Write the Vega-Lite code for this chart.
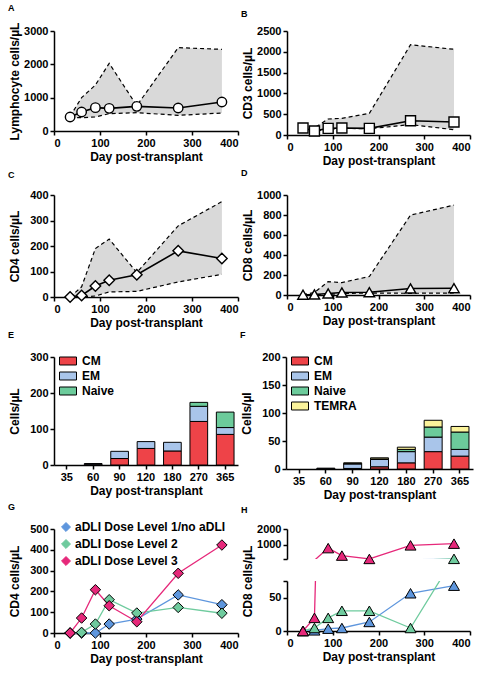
{
  "$schema": "https://vega.github.io/schema/vega-lite/v6.json",
  "padding": {"left": 7, "top": 4, "right": 4, "bottom": 4},
  "background": "white",
  "config": {
    "font": "Liberation Sans",
    "view": {"stroke": null},
    "axis": {"labelFont": "Liberation Sans", "labelFontWeight": "bold", "labelFontSize": 11, "labelColor": "black", "titleFont": "Liberation Sans", "titleFontWeight": "bold", "titleFontSize": 12, "titleColor": "black", "domainColor": "black", "domainWidth": 1.5, "tickColor": "black", "tickWidth": 1.5, "tickSize": 4, "grid": false, "labelPadding": 2, "titlePadding": 3, "labelOverlap": false},
    "axisY": {"minExtent": 31, "maxExtent": 31, "titlePadding": 2},
    "title": {"fontSize": 9, "fontWeight": "bold", "anchor": "start", "frame": "bounds", "color": "black", "font": "Liberation Sans"},
    "legend": {"labelFont": "Liberation Sans", "labelFontWeight": "bold", "labelFontSize": 11, "labelColor": "black", "title": null}
  },
  "datasets": {
    "lymph": [
      {"day": 35, "med": 420, "lo": 400, "hi": 440},
      {"day": 60, "med": 570, "lo": 400, "hi": 1000},
      {"day": 90, "med": 700, "lo": 420, "hi": 1380},
      {"day": 120, "med": 680, "lo": 520, "hi": 2030},
      {"day": 180, "med": 740, "lo": 550, "hi": 760},
      {"day": 270, "med": 690, "lo": 470, "hi": 2500},
      {"day": 365, "med": 870, "lo": 540, "hi": 2450}
    ],
    "cd3": [
      {"day": 35, "med": 168, "lo": 140, "hi": 260},
      {"day": 60, "med": 96, "lo": 90, "hi": 170},
      {"day": 90, "med": 160, "lo": 140, "hi": 385},
      {"day": 120, "med": 168, "lo": 160, "hi": 400},
      {"day": 180, "med": 160, "lo": 150, "hi": 520},
      {"day": 270, "med": 343, "lo": 250, "hi": 2170},
      {"day": 365, "med": 312, "lo": 128, "hi": 2060}
    ],
    "cd4": [
      {"day": 35, "med": 0, "lo": 0, "hi": 0},
      {"day": 60, "med": 6, "lo": 0, "hi": 40},
      {"day": 90, "med": 43, "lo": 4, "hi": 190},
      {"day": 120, "med": 66, "lo": 20, "hi": 227},
      {"day": 180, "med": 87, "lo": 22, "hi": 96},
      {"day": 270, "med": 181, "lo": 59, "hi": 279},
      {"day": 365, "med": 151, "lo": 89, "hi": 374}
    ],
    "cd8": [
      {"day": 35, "med": 3, "lo": 0, "hi": 3},
      {"day": 60, "med": 5, "lo": 0, "hi": 25},
      {"day": 90, "med": 15, "lo": 5, "hi": 134},
      {"day": 120, "med": 25, "lo": 15, "hi": 124},
      {"day": 180, "med": 28, "lo": 20, "hi": 185},
      {"day": 270, "med": 65, "lo": 17, "hi": 799},
      {"day": 365, "med": 68, "lo": 20, "hi": 899}
    ],
    "cd4subsets": [
      {"day": 60, "subset": "CM", "value": 2}, {"day": 60, "subset": "EM", "value": 2},
      {"day": 90, "subset": "CM", "value": 18}, {"day": 90, "subset": "EM", "value": 20},
      {"day": 120, "subset": "CM", "value": 46}, {"day": 120, "subset": "EM", "value": 19},
      {"day": 180, "subset": "CM", "value": 39}, {"day": 180, "subset": "EM", "value": 24},
      {"day": 270, "subset": "CM", "value": 121}, {"day": 270, "subset": "EM", "value": 42}, {"day": 270, "subset": "Naive", "value": 11},
      {"day": 365, "subset": "CM", "value": 85}, {"day": 365, "subset": "EM", "value": 19}, {"day": 365, "subset": "Naive", "value": 43}
    ],
    "cd8subsets": [
      {"day": 60, "subset": "CM", "value": 0.5}, {"day": 60, "subset": "EM", "value": 1},
      {"day": 90, "subset": "CM", "value": 1}, {"day": 90, "subset": "EM", "value": 8}, {"day": 90, "subset": "Naive", "value": 1}, {"day": 90, "subset": "TEMRA", "value": 1},
      {"day": 120, "subset": "CM", "value": 4}, {"day": 120, "subset": "EM", "value": 13}, {"day": 120, "subset": "Naive", "value": 1}, {"day": 120, "subset": "TEMRA", "value": 2},
      {"day": 180, "subset": "CM", "value": 11}, {"day": 180, "subset": "EM", "value": 20}, {"day": 180, "subset": "Naive", "value": 4}, {"day": 180, "subset": "TEMRA", "value": 4},
      {"day": 270, "subset": "CM", "value": 31}, {"day": 270, "subset": "EM", "value": 26}, {"day": 270, "subset": "Naive", "value": 18}, {"day": 270, "subset": "TEMRA", "value": 12},
      {"day": 365, "subset": "CM", "value": 23}, {"day": 365, "subset": "EM", "value": 12}, {"day": 365, "subset": "Naive", "value": 31}, {"day": 365, "subset": "TEMRA", "value": 10}
    ],
    "cd4dose": [
      {"day": 35, "group": "aDLI Dose Level 1/no aDLI", "value": 0},
      {"day": 60, "group": "aDLI Dose Level 1/no aDLI", "value": 0},
      {"day": 90, "group": "aDLI Dose Level 1/no aDLI", "value": 0},
      {"day": 120, "group": "aDLI Dose Level 1/no aDLI", "value": 43},
      {"day": 180, "group": "aDLI Dose Level 1/no aDLI", "value": 67},
      {"day": 270, "group": "aDLI Dose Level 1/no aDLI", "value": 183},
      {"day": 365, "group": "aDLI Dose Level 1/no aDLI", "value": 136},
      {"day": 35, "group": "aDLI Dose Level 2", "value": 0},
      {"day": 60, "group": "aDLI Dose Level 2", "value": 3},
      {"day": 90, "group": "aDLI Dose Level 2", "value": 43},
      {"day": 120, "group": "aDLI Dose Level 2", "value": 160},
      {"day": 180, "group": "aDLI Dose Level 2", "value": 96},
      {"day": 270, "group": "aDLI Dose Level 2", "value": 123},
      {"day": 365, "group": "aDLI Dose Level 2", "value": 95},
      {"day": 35, "group": "aDLI Dose Level 3", "value": 0},
      {"day": 60, "group": "aDLI Dose Level 3", "value": 72},
      {"day": 90, "group": "aDLI Dose Level 3", "value": 208},
      {"day": 120, "group": "aDLI Dose Level 3", "value": 131},
      {"day": 180, "group": "aDLI Dose Level 3", "value": 54},
      {"day": 270, "group": "aDLI Dose Level 3", "value": 287},
      {"day": 365, "group": "aDLI Dose Level 3", "value": 423}
    ],
    "cd8dose": [
      {"day": 35, "group": "aDLI Dose Level 1/no aDLI", "value": 0},
      {"day": 60, "group": "aDLI Dose Level 1/no aDLI", "value": 1},
      {"day": 90, "group": "aDLI Dose Level 1/no aDLI", "value": 3.5},
      {"day": 120, "group": "aDLI Dose Level 1/no aDLI", "value": 4.5},
      {"day": 180, "group": "aDLI Dose Level 1/no aDLI", "value": 13.6},
      {"day": 270, "group": "aDLI Dose Level 1/no aDLI", "value": 56.6},
      {"day": 365, "group": "aDLI Dose Level 1/no aDLI", "value": 68},
      {"day": 35, "group": "aDLI Dose Level 2", "value": 0},
      {"day": 60, "group": "aDLI Dose Level 2", "value": 4.5},
      {"day": 90, "group": "aDLI Dose Level 2", "value": 19.7},
      {"day": 120, "group": "aDLI Dose Level 2", "value": 30.3},
      {"day": 180, "group": "aDLI Dose Level 2", "value": 30.3},
      {"day": 270, "group": "aDLI Dose Level 2", "value": 4.5},
      {"day": 365, "group": "aDLI Dose Level 2", "value": 110},
      {"day": 35, "group": "aDLI Dose Level 3", "value": 0},
      {"day": 60, "group": "aDLI Dose Level 3", "value": 19.7},
      {"day": 90, "group": "aDLI Dose Level 3", "value": 790},
      {"day": 120, "group": "aDLI Dose Level 3", "value": 316},
      {"day": 180, "group": "aDLI Dose Level 3", "value": 105},
      {"day": 270, "group": "aDLI Dose Level 3", "value": 964},
      {"day": 365, "group": "aDLI Dose Level 3", "value": 1072}
    ]
  },
  "resolve": {"scale": {"color": "independent"}},
  "spacing": 3,
  "vconcat": [
    {
      "spacing": 2,
      "resolve": {"scale": {"color": "independent"}},
      "hconcat": [
        {
          "title": {"text": "A", "offset": 9},
          "width": 184, "height": 100,
          "data": {"name": "lymph"},
          "encoding": {"x": {"field": "day", "type": "quantitative", "scale": {"domain": [0, 400]}, "axis": {"values": [0, 100, 200, 300, 400], "title": "Day post-transplant"}}},
          "layer": [
            {"mark": {"type": "area", "color": "#d9d9d9"}, "encoding": {"y": {"field": "lo", "type": "quantitative", "scale": {"domain": [0, 3000]}, "axis": {"values": [0, 1000, 2000, 3000], "format": "d"}, "title": "Lymphocyte cells/µL"}, "y2": {"field": "hi"}}},
            {"mark": {"type": "line", "color": "black", "strokeDash": [4, 3], "strokeWidth": 1.2}, "encoding": {"y": {"field": "hi", "type": "quantitative", "scale": {"domain": [0, 3000]}, "axis": {"values": [0, 1000, 2000, 3000], "format": "d"}, "title": "Lymphocyte cells/µL"}}},
            {"mark": {"type": "line", "color": "black", "strokeDash": [4, 3], "strokeWidth": 1.2}, "encoding": {"y": {"field": "lo", "type": "quantitative", "scale": {"domain": [0, 3000]}, "axis": {"values": [0, 1000, 2000, 3000], "format": "d"}, "title": "Lymphocyte cells/µL"}}},
            {"mark": {"type": "line", "color": "black", "strokeWidth": 1.6}, "encoding": {"y": {"field": "med", "type": "quantitative", "scale": {"domain": [0, 3000]}, "axis": {"values": [0, 1000, 2000, 3000], "format": "d"}, "title": "Lymphocyte cells/µL"}}},
            {"mark": {"type": "point", "shape": "circle", "filled": true, "fill": "white", "stroke": "black", "strokeWidth": 1.4, "size": 90, "opacity": 1}, "encoding": {"y": {"field": "med", "type": "quantitative", "scale": {"domain": [0, 3000]}, "axis": {"values": [0, 1000, 2000, 3000], "format": "d"}, "title": "Lymphocyte cells/µL"}}}
          ]
        },
        {
          "title": {"text": "B", "offset": 6},
          "width": 183, "height": 104,
          "data": {"name": "cd3"},
          "encoding": {"x": {"field": "day", "type": "quantitative", "scale": {"domain": [0, 400]}, "axis": {"values": [0, 100, 200, 300, 400], "title": "Day post-transplant"}}},
          "layer": [
            {"mark": {"type": "area", "color": "#d9d9d9"}, "encoding": {"y": {"field": "lo", "type": "quantitative", "scale": {"domain": [0, 2500]}, "axis": {"values": [0, 500, 1000, 1500, 2000, 2500], "format": "d"}, "title": "CD3 cells/µL"}, "y2": {"field": "hi"}}},
            {"mark": {"type": "line", "color": "black", "strokeDash": [4, 3], "strokeWidth": 1.2}, "encoding": {"y": {"field": "hi", "type": "quantitative", "scale": {"domain": [0, 2500]}, "axis": {"values": [0, 500, 1000, 1500, 2000, 2500], "format": "d"}, "title": "CD3 cells/µL"}}},
            {"mark": {"type": "line", "color": "black", "strokeDash": [4, 3], "strokeWidth": 1.2}, "encoding": {"y": {"field": "lo", "type": "quantitative", "scale": {"domain": [0, 2500]}, "axis": {"values": [0, 500, 1000, 1500, 2000, 2500], "format": "d"}, "title": "CD3 cells/µL"}}},
            {"mark": {"type": "line", "color": "black", "strokeWidth": 1.6}, "encoding": {"y": {"field": "med", "type": "quantitative", "scale": {"domain": [0, 2500]}, "axis": {"values": [0, 500, 1000, 1500, 2000, 2500], "format": "d"}, "title": "CD3 cells/µL"}}},
            {"mark": {"type": "point", "shape": "square", "filled": true, "fill": "white", "stroke": "black", "strokeWidth": 1.4, "size": 100, "opacity": 1}, "encoding": {"y": {"field": "med", "type": "quantitative", "scale": {"domain": [0, 2500]}, "axis": {"values": [0, 500, 1000, 1500, 2000, 2500], "format": "d"}, "title": "CD3 cells/µL"}}}
          ]
        }
      ]
    },
    {
      "spacing": 2,
      "resolve": {"scale": {"color": "independent"}},
      "hconcat": [
        {
          "title": {"text": "C", "offset": 9},
          "width": 184, "height": 102,
          "data": {"name": "cd4"},
          "encoding": {"x": {"field": "day", "type": "quantitative", "scale": {"domain": [0, 400]}, "axis": {"values": [0, 100, 200, 300, 400], "title": "Day post-transplant"}}},
          "layer": [
            {"mark": {"type": "area", "color": "#d9d9d9"}, "encoding": {"y": {"field": "lo", "type": "quantitative", "scale": {"domain": [0, 400]}, "axis": {"values": [0, 100, 200, 300, 400], "format": "d"}, "title": "CD4 cells/µL"}, "y2": {"field": "hi"}}},
            {"mark": {"type": "line", "color": "black", "strokeDash": [4, 3], "strokeWidth": 1.2}, "encoding": {"y": {"field": "hi", "type": "quantitative", "scale": {"domain": [0, 400]}, "axis": {"values": [0, 100, 200, 300, 400], "format": "d"}, "title": "CD4 cells/µL"}}},
            {"mark": {"type": "line", "color": "black", "strokeDash": [4, 3], "strokeWidth": 1.2}, "encoding": {"y": {"field": "lo", "type": "quantitative", "scale": {"domain": [0, 400]}, "axis": {"values": [0, 100, 200, 300, 400], "format": "d"}, "title": "CD4 cells/µL"}}},
            {"mark": {"type": "line", "color": "black", "strokeWidth": 1.6}, "encoding": {"y": {"field": "med", "type": "quantitative", "scale": {"domain": [0, 400]}, "axis": {"values": [0, 100, 200, 300, 400], "format": "d"}, "title": "CD4 cells/µL"}}},
            {"mark": {"type": "point", "shape": "diamond", "filled": true, "fill": "white", "stroke": "black", "strokeWidth": 1.4, "size": 110, "opacity": 1}, "encoding": {"y": {"field": "med", "type": "quantitative", "scale": {"domain": [0, 400]}, "axis": {"values": [0, 100, 200, 300, 400], "format": "d"}, "title": "CD4 cells/µL"}}}
          ]
        },
        {
          "title": {"text": "D", "offset": 11},
          "width": 183, "height": 100,
          "data": {"name": "cd8"},
          "encoding": {"x": {"field": "day", "type": "quantitative", "scale": {"domain": [0, 400]}, "axis": {"values": [0, 100, 200, 300, 400], "title": "Day post-transplant"}}},
          "layer": [
            {"mark": {"type": "area", "color": "#d9d9d9"}, "encoding": {"y": {"field": "lo", "type": "quantitative", "scale": {"domain": [0, 1000]}, "axis": {"values": [0, 200, 400, 600, 800, 1000], "format": "d"}, "title": "CD8 cells/µL"}, "y2": {"field": "hi"}}},
            {"mark": {"type": "line", "color": "black", "strokeDash": [4, 3], "strokeWidth": 1.2}, "encoding": {"y": {"field": "hi", "type": "quantitative", "scale": {"domain": [0, 1000]}, "axis": {"values": [0, 200, 400, 600, 800, 1000], "format": "d"}, "title": "CD8 cells/µL"}}},
            {"mark": {"type": "line", "color": "black", "strokeDash": [4, 3], "strokeWidth": 1.2}, "encoding": {"y": {"field": "lo", "type": "quantitative", "scale": {"domain": [0, 1000]}, "axis": {"values": [0, 200, 400, 600, 800, 1000], "format": "d"}, "title": "CD8 cells/µL"}}},
            {"mark": {"type": "line", "color": "black", "strokeWidth": 1.6}, "encoding": {"y": {"field": "med", "type": "quantitative", "scale": {"domain": [0, 1000]}, "axis": {"values": [0, 200, 400, 600, 800, 1000], "format": "d"}, "title": "CD8 cells/µL"}}},
            {"mark": {"type": "point", "shape": "triangle-up", "filled": true, "fill": "white", "stroke": "black", "strokeWidth": 1.4, "size": 110, "opacity": 1}, "encoding": {"y": {"field": "med", "type": "quantitative", "scale": {"domain": [0, 1000]}, "axis": {"values": [0, 200, 400, 600, 800, 1000], "format": "d"}, "title": "CD8 cells/µL"}}}
          ]
        }
      ]
    },
    {
      "spacing": 2,
      "resolve": {"scale": {"color": "independent"}},
      "hconcat": [
        {
          "title": {"text": "E", "offset": 11},
          "width": 184, "height": 108,
          "data": {"name": "cd4subsets"},
          "mark": {"type": "bar", "stroke": "black", "strokeWidth": 1},
          "encoding": {
            "x": {"field": "day", "type": "ordinal", "scale": {"domain": [35, 60, 90, 120, 180, 270, 365], "paddingInner": 0.33, "paddingOuter": 0.15}, "axis": {"labelAngle": 0, "title": "Day post-transplant"}},
            "y": {"field": "value", "type": "quantitative", "stack": "zero", "scale": {"domain": [0, 300]}, "axis": {"values": [0, 100, 200, 300]}, "title": "Cells/µL"},
            "order": {"field": "subset", "sort": "ascending"},
            "color": {"field": "subset", "type": "nominal", "scale": {"domain": ["CM", "EM", "Naive"], "range": ["#ee4348", "#a9c5ea", "#6ccb9b"]},
              "legend": {"orient": "none", "legendX": 5, "legendY": -5, "symbolType": "M-1,-0.47H1V0.47H-1Z", "symbolSize": 289, "symbolStrokeColor": "black", "symbolStrokeWidth": 1, "labelOffset": 5, "rowPadding": 0, "labelFontSize": 12}}
          }
        },
        {
          "title": {"text": "F", "offset": 11},
          "width": 187, "height": 112,
          "data": {"name": "cd8subsets"},
          "mark": {"type": "bar", "stroke": "black", "strokeWidth": 1},
          "encoding": {
            "x": {"field": "day", "type": "ordinal", "scale": {"domain": [35, 60, 90, 120, 180, 270, 365], "paddingInner": 0.33, "paddingOuter": 0.15}, "axis": {"labelAngle": 0, "title": "Day post-transplant"}},
            "y": {"field": "value", "type": "quantitative", "stack": "zero", "scale": {"domain": [0, 200]}, "axis": {"values": [0, 50, 100, 150, 200]}, "title": "Cells/µl"},
            "order": {"field": "subset", "sort": "ascending"},
            "color": {"field": "subset", "type": "nominal", "scale": {"domain": ["CM", "EM", "Naive", "TEMRA"], "range": ["#ee4348", "#a9c5ea", "#6ccb9b", "#fbf39b"]},
              "legend": {"orient": "none", "legendX": 5, "legendY": -5, "symbolType": "M-1,-0.47H1V0.47H-1Z", "symbolSize": 289, "symbolStrokeColor": "black", "symbolStrokeWidth": 1, "labelOffset": 5, "rowPadding": 0, "labelFontSize": 12}}
          }
        }
      ]
    },
    {
      "spacing": 2,
      "resolve": {"scale": {"color": "independent"}},
      "hconcat": [
        {
          "title": {"text": "G", "offset": 9},
          "width": 184, "height": 104,
          "data": {"name": "cd4dose"},
          "encoding": {
            "x": {"field": "day", "type": "quantitative", "scale": {"domain": [0, 400]}, "axis": {"values": [0, 100, 200, 300, 400], "title": "Day post-transplant"}},
            "y": {"field": "value", "type": "quantitative", "scale": {"domain": [0, 500]}, "axis": {"values": [0, 100, 200, 300, 400, 500]}, "title": "CD4 cells/µL"},
            "color": {"field": "group", "type": "nominal", "scale": {"domain": ["aDLI Dose Level 1/no aDLI", "aDLI Dose Level 2", "aDLI Dose Level 3"], "range": ["#5e96dd", "#6fcb9e", "#e6287a"]},
              "legend": {"orient": "none", "legendX": 6, "legendY": -8, "symbolType": "diamond", "symbolSize": 80, "symbolStrokeColor": "black", "symbolStrokeWidth": 1, "symbolOpacity": 1, "labelOffset": 3, "rowPadding": 3, "labelFontSize": 12,
                "encode": {"symbols": {"update": {"stroke": {"value": "black"}, "strokeWidth": {"value": 1}}}}}}
          },
          "layer": [
            {"mark": {"type": "line", "strokeWidth": 1.3}},
            {"mark": {"type": "point", "shape": "diamond", "filled": true, "stroke": "black", "strokeWidth": 1, "size": 110, "opacity": 1}}
          ]
        },
        {
          "title": {"text": "H", "offset": 8},
          "spacing": 22,
          "bounds": "flush",
          "resolve": {"scale": {"color": "shared"}},
          "vconcat": [
            {
              "width": 183, "height": 30,
              "data": {"name": "cd8dose"},
              "encoding": {
                "x": {"field": "day", "type": "quantitative", "scale": {"domain": [0, 400]}, "axis": null},
                "y": {"field": "value", "type": "quantitative", "scale": {"domain": [100, 2000], "nice": false, "zero": false}, "axis": {"values": [100, 1000, 2000], "labelExpr": "datum.value == 100 ? '' : datum.label", "format": "d"}, "title": null},
                "color": {"field": "group", "type": "nominal", "scale": {"domain": ["aDLI Dose Level 1/no aDLI", "aDLI Dose Level 2", "aDLI Dose Level 3"], "range": ["#5e96dd", "#6fcb9e", "#e6287a"]}, "legend": null}
              },
              "layer": [
                {"mark": {"type": "line", "strokeWidth": 1.3, "clip": true}},
                {"transform": [{"filter": "datum.value >= 100"}], "mark": {"type": "point", "shape": "triangle-up", "filled": true, "stroke": "black", "strokeWidth": 1, "size": 120, "opacity": 1}}
              ]
            },
            {
              "width": 183, "height": 50,
              "data": {"name": "cd8dose"},
              "encoding": {
                "x": {"field": "day", "type": "quantitative", "scale": {"domain": [0, 400]}, "axis": {"values": [0, 100, 200, 300, 400], "title": "Day post-transplant"}},
                "y": {"field": "value", "type": "quantitative", "scale": {"domain": [0, 75], "nice": false}, "axis": {"values": [0, 50, 75], "labelExpr": "datum.value == 75 ? '' : datum.label", "titleY": 0}, "title": "CD8 cells/µL"},
                "color": {"field": "group", "type": "nominal", "scale": {"domain": ["aDLI Dose Level 1/no aDLI", "aDLI Dose Level 2", "aDLI Dose Level 3"], "range": ["#5e96dd", "#6fcb9e", "#e6287a"]}, "legend": null}
              },
              "layer": [
                {"mark": {"type": "line", "strokeWidth": 1.3, "clip": true}},
                {"transform": [{"filter": "datum.value <= 75"}], "mark": {"type": "point", "shape": "triangle-up", "filled": true, "stroke": "black", "strokeWidth": 1, "size": 120, "opacity": 1}}
              ]
            }
          ]
        }
      ]
    }
  ]
}
